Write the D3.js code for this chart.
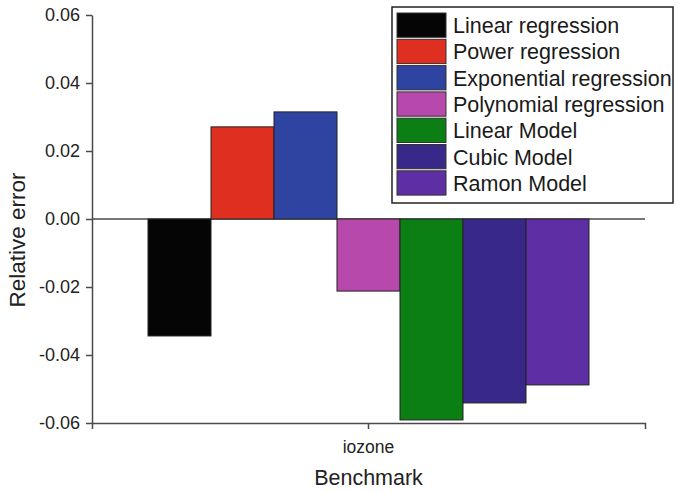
<!DOCTYPE html>
<html>
<head>
<meta charset="utf-8">
<script src="https://cdn.jsdelivr.net/npm/d3@7"></script>
<style>
  html, body { margin: 0; padding: 0; background: #fff; }
  svg { display: block; font-family: "Liberation Sans", Arial, sans-serif; }
</style>
</head>
<body>
<svg id="chart" width="679" height="492"></svg>
<script>
const categories = ["iozone"];
const seriesNames = ["Linear regression", "Power regression", "Exponential regression",
  "Polynomial regression", "Linear Model", "Cubic Model", "Ramon Model"];
const seriesValues = [-0.0344, 0.0271, 0.0315, -0.0212, -0.0591, -0.0541, -0.0488];
const seriesColors = ["#050505", "#df2f20", "#2f44a0", "#b749ad", "#0b7e14", "#38288a", "#5e2fa4"];
const yTicks = [-0.06, -0.04, -0.02, 0.00, 0.02, 0.04, 0.06];

const svg = d3.select("#chart");
const margin = { left: 92, right: 34, top: 15, bottom: 69 };
const W = 679, H = 492;

const y = d3.scaleLinear().domain([-0.06, 0.06]).range([H - margin.bottom, margin.top]);
const x = d3.scaleBand().domain(categories).range([margin.left, W - margin.right])
  .paddingInner(0).paddingOuter(0.127);
const xs = d3.scaleBand().domain(seriesNames).range([0, x.bandwidth()]).padding(0);

const axisColor = "#4a4a4a";
const fmt = d => d3.format(".2f")(d).replace("\u2212", "-");

// zero line
svg.append("line")
  .attr("x1", margin.left).attr("x2", W - margin.right)
  .attr("y1", y(0)).attr("y2", y(0))
  .attr("stroke", axisColor).attr("stroke-width", 1.5);

// bars
const g = svg.append("g");
categories.forEach(cat => {
  seriesNames.forEach((s, i) => {
    const v = seriesValues[i];
    g.append("rect")
      .attr("x", x(cat) + xs(s))
      .attr("y", y(Math.max(0, v)))
      .attr("width", xs.bandwidth())
      .attr("height", Math.abs(y(v) - y(0)))
      .attr("fill", seriesColors[i])
      .attr("stroke", "#222")
      .attr("stroke-width", 1);
  });
});

// y axis
const yAxis = d3.axisLeft(y).tickValues(yTicks).tickFormat(fmt).tickSize(6).tickSizeOuter(0);
const ya = svg.append("g").attr("transform", `translate(${margin.left},0)`).call(yAxis);
ya.select(".domain").attr("stroke", axisColor).attr("stroke-width", 1.5);
ya.selectAll(".tick line").attr("stroke", axisColor).attr("stroke-width", 1.5);
ya.selectAll(".tick text").attr("font-size", "18px").attr("fill", "#222")
  .attr("font-family", "Liberation Sans, Arial, sans-serif").attr("x", -12);

// x axis
const xAxis = d3.axisBottom(x).tickSize(6).tickSizeOuter(6);
const xa = svg.append("g").attr("transform", `translate(0,${H - margin.bottom})`).call(xAxis);
xa.select(".domain").attr("stroke", axisColor).attr("stroke-width", 1.5);
xa.selectAll(".tick line").attr("stroke", axisColor).attr("stroke-width", 1.5);
xa.selectAll(".tick text").attr("font-size", "17.5px").attr("fill", "#222")
  .attr("font-family", "Liberation Sans, Arial, sans-serif").attr("dy", "1.2em");

// axis titles
svg.append("text")
  .attr("x", (margin.left + W - margin.right) / 2)
  .attr("y", 485)
  .attr("text-anchor", "middle")
  .attr("font-size", "21.5px").attr("fill", "#222")
  .text("Benchmark");
svg.append("text")
  .attr("transform", `translate(25,${240}) rotate(-90)`)
  .attr("text-anchor", "middle")
  .attr("font-size", "22.5px").attr("fill", "#222")
  .text("Relative error");

// legend
const lg = svg.append("g").attr("transform", "translate(392,7)");
const rowH = 26.3;
lg.append("rect").attr("x", 0).attr("y", 0).attr("width", 281).attr("height", 196)
  .attr("fill", "#fff").attr("stroke", "#222").attr("stroke-width", 1.5);
seriesNames.forEach((s, i) => {
  lg.append("rect")
    .attr("x", 5).attr("y", 6 + i * rowH)
    .attr("width", 49).attr("height", rowH - 2)
    .attr("fill", seriesColors[i]).attr("stroke", "#333").attr("stroke-width", 1);
  lg.append("text")
    .attr("x", 61).attr("y", 6 + i * rowH + rowH / 2 + 7)
    .attr("font-size", "21.5px").attr("fill", "#1a1a1a")
    .text(s);
});
</script>
</body>
</html>
